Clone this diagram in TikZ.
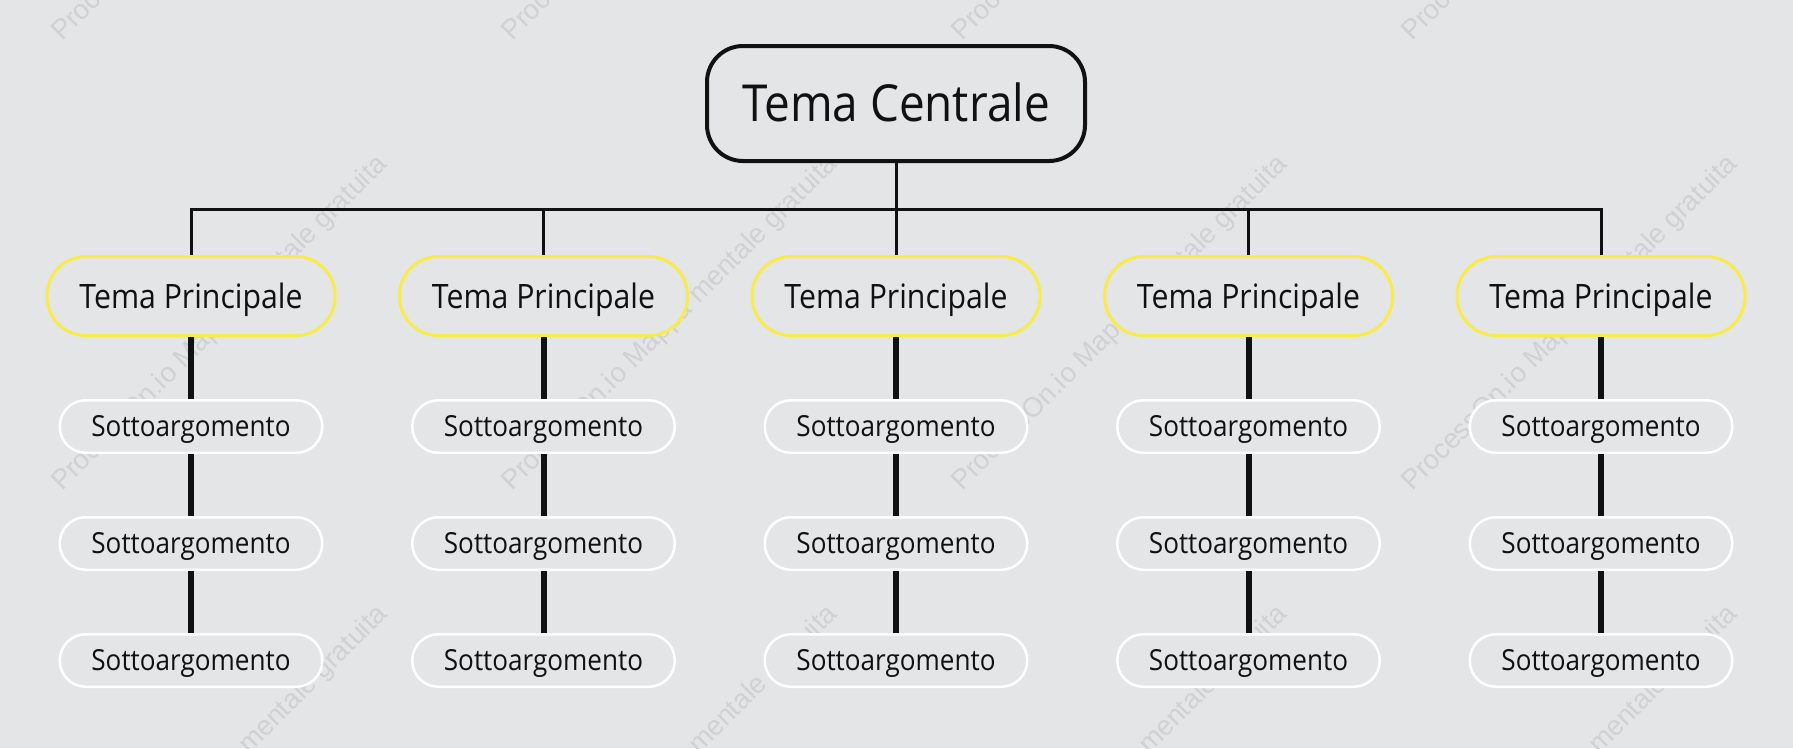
\documentclass[tikz,border=0pt]{standalone}
\usepackage{fontspec}
\setmainfont{Open Sans}[FakeStretch=0.9]
\newfontfamily\wmfont{Liberation Sans}
\definecolor{bg}{RGB}{228,229,231}
\definecolor{wm}{RGB}{208,209,211}
\definecolor{ink}{RGB}{17,17,17}
\definecolor{ylw}{RGB}{250,236,72}
\begin{document}
\begin{tikzpicture}[x=1pt,y=-1pt,
  allbox/.style={inner sep=0pt, fill=bg, text=ink, text depth=0pt},
  central/.style={allbox, draw=ink, line width=4pt, rounded corners=36pt,
    minimum width=378pt, minimum height=115pt, text height=36.4pt,
    font=\fontsize{51}{60}\selectfont},
  mainbox/.style={allbox, draw=ylw, line width=3pt, rounded corners=39pt,
    minimum width=288pt, minimum height=79pt, text height=24pt,
    font=\fontsize{33.6}{40}\selectfont},
  subbox/.style={allbox, draw=white, line width=2.5pt, rounded corners=26pt,
    minimum width=262.5pt, minimum height=52.5pt, text height=20.8pt,
    font=\fontsize{29}{34}\selectfont},
  bus/.style={draw=ink, line width=3pt},
  stem/.style={draw=ink, line width=6pt},
  wmtext/.style={text=wm, rotate=45, anchor=base west, inner sep=0pt,
    font=\wmfont\fontsize{27.5}{32}\selectfont}]
\useasboundingbox (0,0) rectangle (1793,748);
\fill[bg] (0,0) rectangle (1793,748);
\begin{scope}
\clip (0,0) rectangle (1793,748);
\foreach \x in {62,512,962,1412}{
  \foreach \y in {42,492,942}{
    \node[wmtext] (wm-\x-\y) at (\x,\y) {ProcessOn.io Mappa mentale gratuita};
  }
}
\end{scope}
% central
\node[central] (c) at (896,103.5) {Tema Centrale};
\coordinate (j) at (896,209);
% main topics and subtopics
\foreach \i/\x in {1/191,2/543.5,3/896,4/1248.5,5/1601}{
  \node[mainbox] (m\i) at (\x,296) {Tema Principale};
  \node[subbox] (s\i a) at (\x,426.5) {Sottoargomento};
  \node[subbox] (s\i b) at (\x,543.5) {Sottoargomento};
  \node[subbox] (s\i c) at (\x,660.5) {Sottoargomento};
}
\draw[bus] (c.south) -- (j);
\foreach \i in {1,...,5}{
  \draw[bus] (j) -| (m\i.north);
  \draw[stem] (m\i.south) -- (s\i a.north);
  \draw[stem] (s\i a.south) -- (s\i b.north);
  \draw[stem] (s\i b.south) -- (s\i c.north);
}
\end{tikzpicture}
\end{document}
